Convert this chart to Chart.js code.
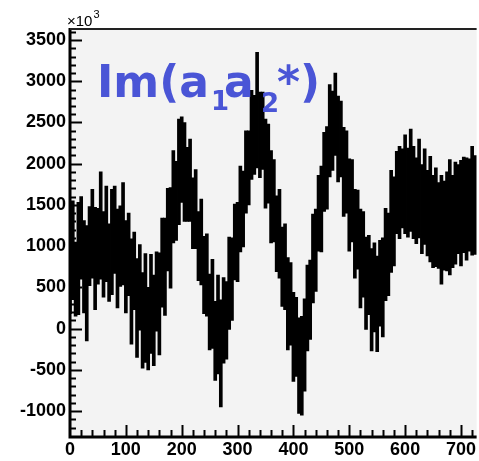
<!DOCTYPE html>
<html><head><meta charset="utf-8">
<script src="https://cdn.jsdelivr.net/npm/chart.js@4"></script>
<style>html,body{margin:0;padding:0;background:#fff;overflow:hidden}#wrap{width:479px;height:461px;position:relative}</style>
</head><body><div id="wrap"><canvas id="c" width="479" height="461"></canvas></div>
<script>
// bin centres (x)
const binX = [0,5,10,15,20,25,30,35,40,45,50,55,60,65,70,75,80,85,90,95,
100,105,110,115,120,125,130,135,140,145,150,155,160,165,170,175,180,185,190,195,
200,205,210,215,220,225,230,235,240,245,250,255,260,265,270,275,280,285,290,295,
300,305,310,315,320,325,330,335,340,345,350,355,360,365,370,375,380,385,390,395,
400,405,410,415,420,425,430,435,440,445,450,455,460,465,470,475,480,485,490,495,
500,505,510,515,520,525,530,535,540,545,550,555,560,565,570,575,580,585,590,595,
600,605,610,615,620,625,630,635,640,645,650,655,660,665,670,675,680,685,690,695,
700,705,710,715,720,725];
// bin contents (units of 10^3)
const binY = [700,950,600,850,1100,750,550,1000,1150,850,1000,1250,900,1150,800,1050,1200,850,1000,1150,
750,900,450,700,250,500,100,250,0,300,100,450,300,800,750,1200,1100,1600,1550,1900,
2050,1900,1750,1800,1400,1450,1000,1050,650,650,200,300,-150,50,-300,100,100,550,600,1050,
1050,1450,1450,1900,1950,2350,2350,2650,2350,2400,2000,2000,1600,1550,1150,1150,750,750,300,300,
-100,-100,-450,-450,-200,250,350,850,950,1400,1450,1900,1950,2400,2400,2600,2300,2300,1900,1900,
1500,1550,1150,1200,850,900,550,650,350,500,300,550,500,900,900,1300,1300,1650,1650,1700,
1750,1650,1800,1650,1550,1700,1450,1600,1400,1450,1300,1350,1250,1200,1250,1300,1350,1300,1400,1450,
1400,1500,1450,1500,1550,1500];
// bin errors
const binErr = [520,600,450,680,500,560,700,480,540,620,460,650,520,580,470,640,530,600,490,620,
560,500,640,470,600,520,580,660,500,600,550,480,620,540,590,500,610,560,480,640,
520,600,450,500,430,480,420,520,470,500,460,540,480,600,650,520,470,560,500,460,
480,520,460,500,450,540,480,700,520,470,540,480,560,500,460,540,480,520,560,500,
540,480,580,600,560,520,480,540,500,460,520,480,500,560,480,500,520,460,540,500,
560,500,540,480,600,520,560,480,620,540,580,520,600,560,500,620,540,500,560,480,
600,540,620,560,520,600,540,580,520,640,560,600,520,660,540,600,700,560,620,540,
640,580,620,560,660,600];
const yTickValues = [-1000,-500,0,500,1000,1500,2000,2500,3000,3500];
const xTickValues = [0,100,200,300,400,500,600,700];
const titleParts = ["Im(a","1","a","2","*)"];

const bars = binX.map((x,i)=>({x:x, y:[binY[i]-binErr[i], binY[i]+binErr[i]]}));

const framePlugin = {
  id:'frame',
  beforeDraw(chart){
    const {ctx, chartArea:a} = chart;
    ctx.save();
    ctx.fillStyle = '#f3f3f3';
    ctx.fillRect(a.left, a.top, a.right-a.left, a.bottom-a.top);
    ctx.restore();
  },
  afterDraw(chart){
    const {ctx, chartArea:a, scales} = chart;
    const xs = scales.x, ys = scales.y;
    ctx.save();
    ctx.strokeStyle = '#000';
    ctx.lineWidth = 2;
    for (let v=-1300; v<=3600; v+=100){
      const p = Math.round(ys.getPixelForValue(v))+0.5;
      if (p < a.top+1 || p > a.bottom-1) continue;
      const len = (v % 500 === 0) ? 12 : 6;
      ctx.beginPath(); ctx.moveTo(a.left, p); ctx.lineTo(a.left+len, p); ctx.stroke();
    }
    for (let v=20; v<=720; v+=20){
      const p = Math.round(xs.getPixelForValue(v))+0.5;
      const len = (v % 100 === 0) ? 11 : 6;
      ctx.beginPath(); ctx.moveTo(p, a.bottom); ctx.lineTo(p, a.bottom-len); ctx.stroke();
    }
    ctx.lineWidth = 3;
    ctx.beginPath(); ctx.moveTo(a.left, a.top-1); ctx.lineTo(a.left, a.bottom+1); ctx.lineTo(a.right, a.bottom+1); ctx.stroke();
    ctx.lineWidth = 2;
    ctx.strokeStyle = '#222';
    ctx.beginPath(); ctx.moveTo(a.left, a.top); ctx.lineTo(a.right, a.top); ctx.stroke();
    // exponent label
    ctx.fillStyle = '#000';
    ctx.textBaseline = 'alphabetic';
    ctx.font = '15px "Liberation Sans", Arial, sans-serif';
    ctx.fillText('\u00d710', 67, 26);
    const w = ctx.measureText('\u00d710').width;
    ctx.font = '11px "Liberation Sans", Arial, sans-serif';
    ctx.fillText('3', 67 + w + 1, 18);
    // title
    ctx.fillStyle = '#4a55d6';
    const big = 'bold 44px "DejaVu Sans", sans-serif';
    const small = 'bold 26px "DejaVu Sans", sans-serif';
    const pos = [[97,97,big],[211,110,small],[224,97,big],[261,112,small],[277,97,big]];
    titleParts.forEach((t,i)=>{
      ctx.font = pos[i][2];
      ctx.fillText(t, pos[i][0], pos[i][1]);
    });
    ctx.restore();
  }
};

new Chart(document.getElementById('c'), {
  type:'bar',
  data:{datasets:[{
    data: bars,
    backgroundColor:'#000',
    borderWidth:0,
    barThickness:3,
    grouped:false
  }]},
  options:{
    responsive:false,
    animation:false,
    layout:{padding:{top:29,right:0,left:0,bottom:0}},
    plugins:{legend:{display:false},tooltip:{enabled:false},title:{display:false}},
    scales:{
      x:{type:'linear', min:0, max:728, offset:false,
        grid:{display:false, drawTicks:false}, border:{display:false},
        afterBuildTicks(s){ s.ticks = xTickValues.map(v=>({value:v})); },
        afterFit(s){ s.height = 25; },
        ticks:{color:'#000', padding:3, maxRotation:0, autoSkip:false,
          callback:(v)=>String(v),
          font:{family:'"Liberation Sans", Arial, sans-serif', size:18, weight:'bold'}}
      },
      y:{type:'linear', min:-1303, max:3634,
        grid:{display:false, drawTicks:false}, border:{display:false},
        afterBuildTicks(s){ s.ticks = yTickValues.map(v=>({value:v})); },
        afterFit(s){ s.width = 70; },
        ticks:{color:'#000', padding:4, autoSkip:false,
          callback:(v)=>String(v),
          font:{family:'"Liberation Sans", Arial, sans-serif', size:18, weight:'bold'}}
      }
    }
  },
  plugins:[framePlugin]
});
</script>
</body></html>
